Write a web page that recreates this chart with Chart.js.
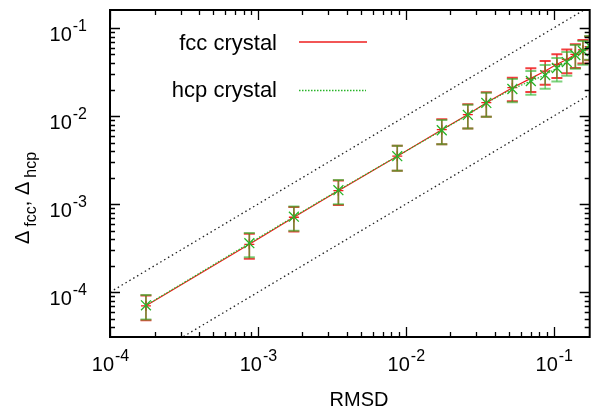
<!DOCTYPE html>
<html>
<head>
<meta charset="utf-8">
<script src="https://cdn.jsdelivr.net/npm/chart.js@4"></script>
<style>
  html, body { margin: 0; padding: 0; background: #fff; }
</style>
</head>
<body>
<canvas id="chart" width="598" height="412"></canvas>
<script>
// RMSD values (x) and the two deviations
const rmsd = [1.75e-4, 8.75e-4, 1.75e-3, 3.5e-3, 8.75e-3, 0.0175, 0.02625, 0.035, 0.0525, 0.07, 0.0875, 0.105, 0.1225, 0.14, 0.1575, 0.175];
const fccDelta = [7.0e-5, 3.5e-4, 7.1e-4, 1.42e-3, 3.5e-3, 7.0e-3, 0.0104, 0.0142, 0.021, 0.0268, 0.0324, 0.0387, 0.0439, 0.0502, 0.0563, 0.0615];
const hcpDelta = [7.1e-5, 3.6e-4, 7.2e-4, 1.44e-3, 3.5e-3, 6.9e-3, 0.0103, 0.0141, 0.0203, 0.025, 0.0292, 0.0351, 0.041, 0.0493, 0.0548, 0.0624];
const fccErr = [2.2e-5, 1.1e-4, 2.2e-4, 4.4e-4, 1.1e-3, 2.2e-3, 3.2e-3, 4.4e-3, 6.3e-3, 8.0e-3, 9.8e-3, 0.0116, 0.0132, 0.015, 0.0168, 0.0185];
const hcpErr = [2.2e-5, 1.1e-4, 2.2e-4, 4.4e-4, 1.1e-3, 2.1e-3, 3.1e-3, 4.3e-3, 6.0e-3, 7.5e-3, 8.8e-3, 0.0105, 0.0123, 0.0148, 0.0165, 0.0187];

// dotted guide lines
const refX = [1e-4, 0.175];
const refUpper = [1e-4, 0.175];
const refLower = [1e-5, 0.0175];

// tick labels (exponents of the decades)
const xTickExps = [-4, -3, -2, -1];
const yTickExps = [-4, -3, -2, -1];
const seriesLabels = ['fcc crystal', 'hcp crystal'];

const FONT = '"Liberation Sans", Arial, Helvetica, sans-serif';
const RED = 'rgb(238,30,30)';
const GREEN = 'rgb(40,180,40)';

const toPoints = (xs, ys) => xs.map((x, i) => ({ x: x, y: ys[i] }));

// error bars, drawn just before each series
const errorBars = {
    id: 'errorBars',
    beforeDatasetDraw(chart, args) {
        const ds = chart.data.datasets[args.index];
        if (!ds.errors) return;
        const { ctx, chartArea: a, scales: { x, y } } = chart;
        ctx.save();
        ctx.beginPath();
        ctx.rect(a.left, a.top, a.width, a.height);
        ctx.clip();
        ctx.strokeStyle = ds.errColor;
        ctx.globalAlpha = ds.errAlpha;
        ds.data.forEach((p, i) => {
            const e = ds.errors[i];
            const px = x.getPixelForValue(p.x);
            const top = y.getPixelForValue(p.y + e);
            const bot = y.getPixelForValue(p.y - e);
            ctx.lineWidth = 1.6;
            ctx.beginPath();
            ctx.moveTo(px, top);
            ctx.lineTo(px, bot);
            ctx.stroke();
            ctx.lineWidth = 2;
            ctx.beginPath();
            ctx.moveTo(px - 5.5, top);
            ctx.lineTo(px + 5.5, top);
            ctx.moveTo(px - 5.5, bot);
            ctx.lineTo(px + 5.5, bot);
            ctx.stroke();
        });
        ctx.restore();
    }
};

const logTicks = (lo, hi) => {
    const out = [];
    for (let d = Math.floor(Math.log10(lo)); d <= Math.ceil(Math.log10(hi)); d++) {
        for (let m = 1; m <= 9; m++) {
            const v = m * Math.pow(10, d);
            if (v >= lo * 0.999 && v <= hi * 1.001) out.push({ v: v, major: m === 1 });
        }
    }
    return out;
};

const sciLabel = (ctx, exp, x, baseline, align) => {
    ctx.font = '20px ' + FONT;
    const w1 = ctx.measureText('10').width;
    ctx.font = '16px ' + FONT;
    const w2 = ctx.measureText(exp).width;
    const left = align === 'center' ? x - (w1 + w2) / 2 : x - (w1 + w2);
    ctx.textAlign = 'left';
    ctx.textBaseline = 'alphabetic';
    ctx.font = '20px ' + FONT;
    ctx.fillText('10', left, baseline);
    ctx.font = '16px ' + FONT;
    ctx.fillText(exp, left + w1 + 1, baseline - 10);
};

// frame, inward ticks, labels, legend
const frame = {
    id: 'frame',
    afterDraw(chart) {
        const { ctx, chartArea: a, scales: { x, y } } = chart;
        ctx.save();
        ctx.strokeStyle = '#000';
        ctx.fillStyle = '#000';
        ctx.lineWidth = 1.3;
        ctx.beginPath();
        logTicks(x.min, x.max).forEach(t => {
            const px = Math.round(x.getPixelForValue(t.v)) + 0.5;
            const len = t.major ? 10 : 5;
            ctx.moveTo(px, a.bottom); ctx.lineTo(px, a.bottom - len);
            ctx.moveTo(px, a.top); ctx.lineTo(px, a.top + len);
        });
        logTicks(y.min, y.max).forEach(t => {
            const py = Math.round(y.getPixelForValue(t.v)) + 0.5;
            const len = t.major ? 10 : 5;
            ctx.moveTo(a.left, py); ctx.lineTo(a.left + len, py);
            ctx.moveTo(a.right, py); ctx.lineTo(a.right - len, py);
        });
        ctx.stroke();
        ctx.lineWidth = 2;
        ctx.strokeRect(a.left, a.top, a.width, a.height);

        xTickExps.forEach(e => sciLabel(ctx, String(e), x.getPixelForValue(Math.pow(10, e)), a.bottom + 34, 'center'));
        yTickExps.forEach(e => sciLabel(ctx, String(e), a.left - 24, y.getPixelForValue(Math.pow(10, e)) + 13, 'right'));

        // x title
        ctx.font = '20px ' + FONT;
        ctx.textAlign = 'center';
        ctx.fillText('RMSD', 359, 406);

        // y title: Δ_fcc, Δ_hcp
        ctx.save();
        ctx.translate(29, 198);
        ctx.rotate(-Math.PI / 2);
        const parts = [['Δ', 20, 0], ['fcc', 16, 7], [', ', 20, 0], ['Δ', 20, 0], ['hcp', 16, 7]];
        let total = 0;
        parts.forEach(p => { ctx.font = p[1] + 'px ' + FONT; total += ctx.measureText(p[0]).width + (p[2] ? 4 : 0); });
        let cx = -total / 2;
        ctx.textAlign = 'left';
        parts.forEach(p => {
            ctx.font = p[1] + 'px ' + FONT;
            if (p[2]) cx += 4;
            ctx.fillText(p[0], cx, p[2]);
            cx += ctx.measureText(p[0]).width;
        });
        ctx.restore();

        // legend
        ctx.font = '22px ' + FONT;
        ctx.textAlign = 'right';
        ctx.fillText(seriesLabels[0], 277, 50);
        ctx.fillText(seriesLabels[1], 277, 97);
        ctx.lineWidth = 1.3;
        ctx.strokeStyle = RED;
        ctx.beginPath(); ctx.moveTo(299, 42); ctx.lineTo(367, 42); ctx.stroke();
        ctx.strokeStyle = GREEN;
        ctx.setLineDash([1.5, 1.5]);
        ctx.beginPath(); ctx.moveTo(299, 90.5); ctx.lineTo(366, 90.5); ctx.stroke();
        ctx.restore();
    }
};

new Chart(document.getElementById('chart'), {
    type: 'scatter',
    data: {
        datasets: [
            {
                label: seriesLabels[1],
                data: toPoints(rmsd, hcpDelta),
                errors: hcpErr,
                errColor: GREEN,
                errAlpha: 0.6,
                showLine: true,
                borderColor: GREEN,
                borderWidth: 1.2,
                borderDash: [1.5, 1.5],
                pointStyle: 'crossRot',
                pointRadius: 7,
                pointBorderColor: GREEN,
                pointBorderWidth: 1.3,
                order: 1,
            },
            {
                label: seriesLabels[0],
                data: toPoints(rmsd, fccDelta),
                errors: fccErr,
                errColor: RED,
                errAlpha: 0.85,
                showLine: true,
                borderColor: RED,
                borderWidth: 1.2,
                pointStyle: 'cross',
                pointRadius: 5,
                pointBorderColor: RED,
                pointBorderWidth: 1.3,
                order: 2,
            },
            {
                label: 'y = x',
                data: toPoints(refX, refUpper),
                showLine: true,
                borderColor: '#222',
                borderWidth: 1.3,
                borderDash: [1.5, 3],
                pointRadius: 0,
                order: 3,
            },
            {
                label: 'y = x / 10',
                data: toPoints(refX, refLower),
                showLine: true,
                borderColor: '#222',
                borderWidth: 1.3,
                borderDash: [1.5, 3],
                pointRadius: 0,
                order: 3,
            },
        ],
    },
    options: {
        responsive: false,
        animation: false,
        layout: { padding: { left: 110, right: 4, top: 10, bottom: 75 } },
        plugins: {
            legend: { display: false },
            tooltip: { enabled: false },
        },
        scales: {
            x: { type: 'logarithmic', min: 1e-4, max: 0.175, display: false },
            y: { type: 'logarithmic', min: 3.1e-5, max: 0.16, display: false },
        },
    },
    plugins: [errorBars, frame],
});
</script>
</body>
</html>
